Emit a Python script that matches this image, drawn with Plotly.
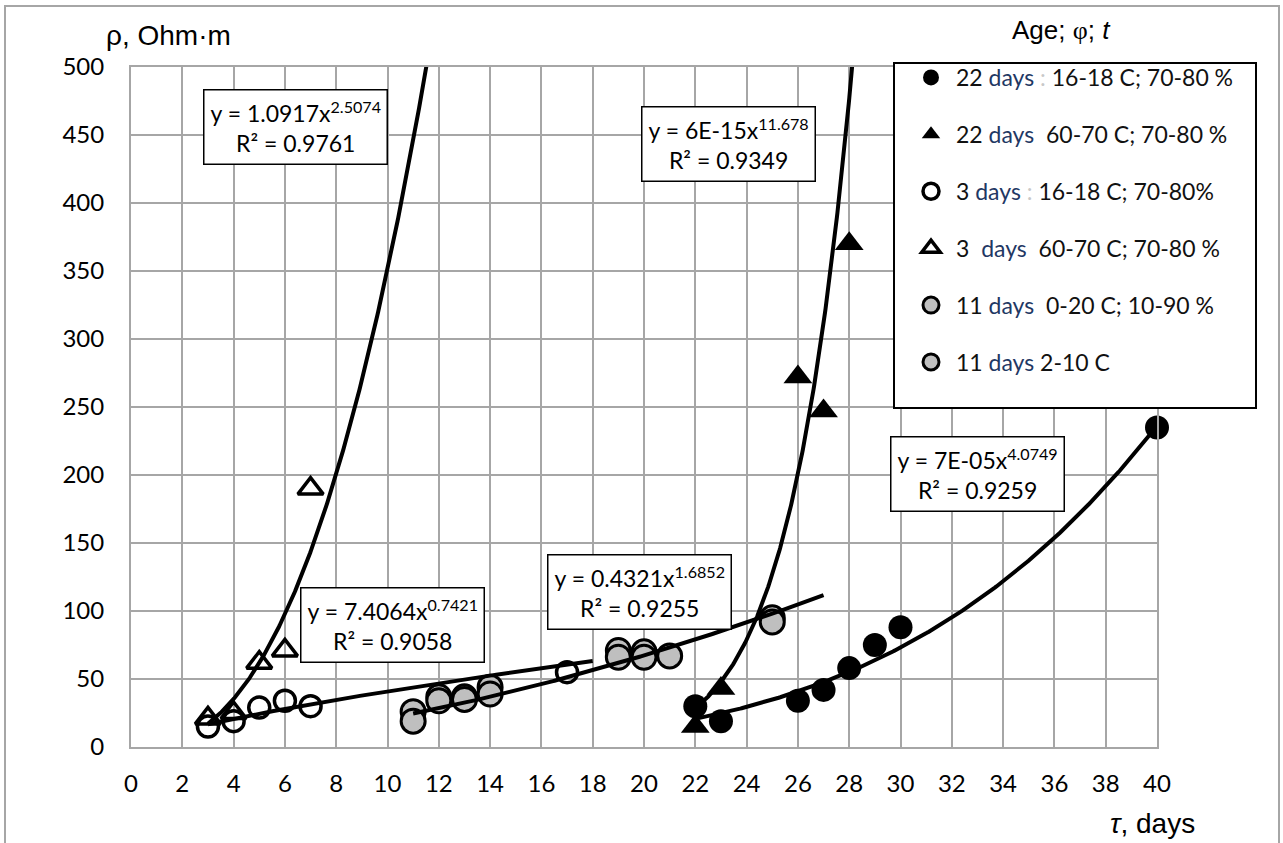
import numpy as np
import plotly.graph_objects as go

# ---------------- data ----------------
d22_cool_x = [22, 23, 26, 27, 28, 29, 30, 40]
d22_cool_y = [30, 19, 34, 42, 58, 75, 88, 235]

d22_hot_x = [22, 23, 26, 27, 28]
d22_hot_y = [15, 43, 272, 247, 370]

d3_cool_x = [3, 4, 5, 6, 7, 17]
d3_cool_y = [15, 19, 29, 34, 30, 55]

d3_hot_x = [3, 4, 5, 6, 7]
d3_hot_y = [21, 25, 62, 71, 190]

d11_a_x = [11, 12, 13, 14, 19, 20, 21, 25]
d11_a_y = [26, 37, 37, 44, 71, 70, 67, 95]

d11_b_x = [11, 12, 13, 14, 19, 20, 25]
d11_b_y = [19, 34, 35, 39, 66, 66, 92]

# power trendlines y = a * x^b (as printed on the chart)
trend_coef = [1.0917, 7.4064, 0.4321, 6e-15, 7e-05]
trend_exp = [2.5074, 0.7421, 1.6852, 11.678, 4.0749]
trend_from = [3, 3, 11, 22, 22]
trend_to = [11.7, 18, 27, 28.3, 40]
trend_coef_text = ["1.0917", "7.4064", "0.4321", "6E-15", "7E-05"]
trend_exp_text = ["2.5074", "0.7421", "1.6852", "11.678", "4.0749"]
trend_r2_text = ["0.9761", "0.9058", "0.9255", "0.9349", "0.9259"]

x_ticks = list(range(0, 41, 2))
y_ticks = list(range(0, 501, 50))

# ---------------- layout geometry ----------------
W, H = 1283, 843
PL, PR, PT, PB = 131, 1157, 67, 747


def px(xp):
    return (xp - PL) / (PR - PL)


def py(yp):
    return (PB - yp) / (PB - PT)


FONT = "Lato"
TXT = "#111111"
DAYS = "#1F3864"
GRAY = "#BFBFBF"


def leg(num, rest, colon=False, gap=" "):
    sep = "<span style='color:#c8c8c8'> : </span>" if colon else gap
    return f"{num} <span style='color:{DAYS}'>days</span>{sep}{rest}"


fig = go.Figure()

ms_c = 24
ms_t = 25

series = [
    dict(x=d22_cool_x, y=d22_cool_y, name=leg("22", "16-18 C; 70-80 %", colon=True),
         marker=dict(symbol="circle", size=ms_c, color="black", line=dict(width=0))),
    dict(x=d22_hot_x, y=d22_hot_y, name=leg("22", "60-70 C; 70-80 %", gap="&nbsp; "),
         marker=dict(symbol="triangle-up", size=ms_t, color="black", line=dict(width=0))),
    dict(x=d3_cool_x, y=d3_cool_y, name=leg("3", "16-18 C; 70-80%", colon=True),
         marker=dict(symbol="circle-open", size=ms_c - 3, color="black", line=dict(width=3.5, color="black"))),
    dict(x=d3_hot_x, y=d3_hot_y, name=leg("3&nbsp;", "60-70 C; 70-80 %", gap="&nbsp; "),
         marker=dict(symbol="triangle-up-open", size=ms_t - 3, color="black", line=dict(width=3.5, color="black"))),
    dict(x=d11_a_x, y=d11_a_y, name=leg("11", "0-20 C; 10-90 %", gap="&nbsp; "),
         marker=dict(symbol="circle", size=ms_c, color=GRAY, line=dict(width=3, color="black"))),
    dict(x=d11_b_x, y=d11_b_y, name=leg("11", "2-10 C"),
         marker=dict(symbol="circle", size=ms_c, color=GRAY, line=dict(width=3, color="black"))),
]

for i, s in enumerate(series):
    fig.add_trace(go.Scatter(x=s["x"], y=s["y"], mode="markers", name=s["name"],
                             marker=s["marker"], legendgroup=f"g{i}", cliponaxis=False))

# trendlines drawn on top of markers
for a, b, x0, x1 in zip(trend_coef, trend_exp, trend_from, trend_to):
    xs = np.linspace(x0, x1, 300)
    ys = a * xs ** b
    fig.add_trace(go.Scatter(x=xs, y=ys, mode="lines", showlegend=False,
                             line=dict(color="black", width=4), hoverinfo="skip"))

# equation boxes (centre positions in pixels)
eq_pos = [(295, 127), (392, 625), (639, 592), (728, 144), (977, 474)]
annotations = []
for (cx, cy), ct, et, rt in zip(eq_pos, trend_coef_text, trend_exp_text, trend_r2_text):
    annotations.append(dict(
        x=px(cx), y=py(cy), xref="paper", yref="paper", showarrow=False,
        text=f"y = {ct}x<sup>{et}</sup><br>R² = {rt}",
        font=dict(family=FONT, size=23, color="black"),
        bgcolor="white", bordercolor="black", borderwidth=1.5, borderpad=6,
        xanchor="center", yanchor="middle", align="center"))

# axis titles and legend title
annotations.append(dict(x=px(168), y=py(36), xref="paper", yref="paper", showarrow=False,
                        text="ρ, Ohm·m", font=dict(family="Liberation Sans", size=28, color="black"),
                        xanchor="center", yanchor="middle"))
annotations.append(dict(x=px(1152), y=py(823), xref="paper", yref="paper", showarrow=False,
                        text="<i>τ</i>, days", font=dict(family="Liberation Sans", size=28, color="black"),
                        xanchor="center", yanchor="middle"))
annotations.append(dict(x=px(1061), y=py(30), xref="paper", yref="paper", showarrow=False,
                        text="Age; <span style='font-family:Liberation Serif'>φ</span>; <i>t</i>",
                        font=dict(family="Liberation Sans", size=26, color="black"),
                        xanchor="center", yanchor="middle"))

shapes = [
    # outer chart border
    dict(type="rect", xref="paper", yref="paper", x0=px(5), x1=px(1279), y0=py(6), y1=py(860),
         line=dict(color="#A6A6A6", width=2), fillcolor="rgba(0,0,0,0)", layer="below"),
    # legend box
    dict(type="rect", xref="paper", yref="paper", x0=px(894), x1=px(1256), y0=py(408), y1=py(63),
         line=dict(color="black", width=2), fillcolor="white", layer="above"),
]

axis_common = dict(showgrid=True, gridcolor="#A6A6A6", gridwidth=2, zeroline=False,
                   showline=True, linecolor="#A6A6A6", linewidth=2, mirror=True,
                   ticks="", tickfont=dict(family=FONT, size=24, color="black"))

fig.update_layout(
    width=W, height=H,
    margin=dict(l=PL, r=W - PR, t=PT, b=H - PB, autoexpand=False),
    paper_bgcolor="white", plot_bgcolor="white",
    xaxis=dict(range=[0, 40], tickmode="array", tickvals=x_ticks,
               ticklabelstandoff=14, **axis_common),
    yaxis=dict(range=[0, 500], tickmode="array", tickvals=y_ticks,
               ticklabelstandoff=20, **axis_common),
    showlegend=True,
    legend=dict(x=px(906), y=py(56), xanchor="left", yanchor="top",
                bgcolor="rgba(0,0,0,0)", borderwidth=0, tracegroupgap=24,
                itemwidth=40,
                font=dict(family=FONT, size=23, color=TXT), itemsizing="trace"),
    annotations=annotations, shapes=shapes,
)

fig.write_html("out.html")
